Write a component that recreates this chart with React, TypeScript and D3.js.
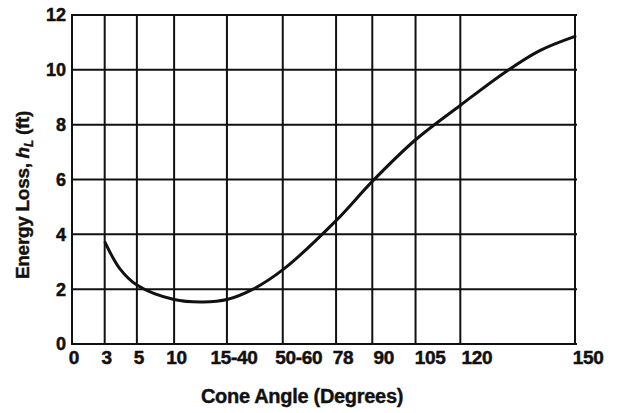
import React from "react";
import * as d3 from "d3";

// X axis: non-uniform category axis, positions in abstract axis units (0-100)
const xTickLabels = ["0", "3", "5", "10", "15-40", "50-60", "78", "90", "105", "120", "150"];
const xTickUnits = [0, 6.5, 12.9, 20.3, 30.8, 41.9, 52.5, 59.7, 68.3, 77.2, 100];
const xLabelUnits = [0.4, 6.9, 13.3, 20.8, 32.2, 45.1, 53.9, 62.0, 71.2, 80.5, 102.6];

// Y axis ticks
const yTicks = [0, 2, 4, 6, 8, 10, 12];

// Energy loss curve (x in axis units, y in ft)
const curveX = [6.6, 9.5, 12.9, 20.3, 26.0, 31.0, 36.0, 42.0, 52.5, 59.8, 68.3, 77.3, 86.4, 93.0, 100];
const curveY = [3.7, 2.75, 2.15, 1.62, 1.53, 1.63, 2.0, 2.72, 4.5, 5.95, 7.45, 8.72, 9.95, 10.7, 11.22];

const W = 618;
const H = 413;
const left = 72;
const right = 575;
const top = 15;
const bottom = 344;
const ink = "#111";
const font = "'Liberation Sans', Arial, Helvetica, sans-serif";

export default function App() {
  const x = d3.scaleLinear().domain([0, 100]).range([left, right]);
  const y = d3.scaleLinear().domain([0, 12]).range([bottom, top]);
  const pts: [number, number][] = curveX.map((v, i) => [v, curveY[i]]);
  const line = d3
    .line<[number, number]>()
    .x((d) => x(d[0]))
    .y((d) => y(d[1]))
    .curve(d3.curveCatmullRom.alpha(0.5));

  return (
    <svg
      width={W}
      height={H}
      style={{ position: "absolute", left: 0, top: 0, background: "#fff" }}
    >
      <rect x={0} y={0} width={W} height={H} fill="#fff" />
      {/* horizontal grid */}
      {yTicks.map((t) => (
        <line
          key={"h" + t}
          x1={left - 1}
          x2={right + 2}
          y1={y(t)}
          y2={y(t)}
          stroke={ink}
          strokeWidth={2}
        />
      ))}
      {/* vertical grid */}
      {xTickUnits.map((u, i) => (
        <line
          key={"v" + i}
          x1={x(u)}
          x2={x(u)}
          y1={top}
          y2={bottom}
          stroke={ink}
          strokeWidth={2}
        />
      ))}
      {/* curve */}
      <path d={line(pts) || ""} fill="none" stroke={ink} strokeWidth={3} strokeLinecap="round" />
      {/* y tick labels */}
      {yTicks.map((t) => (
        <text
          key={"yl" + t}
          x={left - 6}
          y={y(t)}
          dy="0.36em"
          textAnchor="end"
          fontFamily={font}
          fontWeight="bold"
          fontSize={18}
          stroke={ink}
          strokeWidth={0.5}
          fill={ink}
        >
          {t}
        </text>
      ))}
      {/* x tick labels */}
      {xTickLabels.map((lab, i) => (
        <text
          key={"xl" + i}
          x={x(xLabelUnits[i])}
          y={364}
          textAnchor="middle"
          fontFamily={font}
          fontWeight="bold"
          fontSize={19}
          letterSpacing={-0.3}
          stroke={ink}
          strokeWidth={0.5}
          fill={ink}
        >
          {lab}
        </text>
      ))}
      {/* x title */}
      <text
        x={302}
        y={403}
        textAnchor="middle"
        fontFamily={font}
        fontWeight="bold"
        fontSize={20}
        letterSpacing={-0.3}
        stroke={ink}
        strokeWidth={0.4}
        fill={ink}
      >
        Cone Angle (Degrees)
      </text>
      {/* y title */}
      <text
        transform={`translate(29,195) rotate(-90)`}
        textAnchor="middle"
        fontFamily={font}
        fontWeight="bold"
        fontSize={19}
        letterSpacing={-0.3}
        stroke={ink}
        strokeWidth={0.4}
        fill={ink}
      >
        Energy Loss,{" "}
        <tspan fontStyle="italic">h</tspan>
        <tspan fontSize={12} dy={4} fontStyle="italic">L</tspan>
        <tspan dy={-4}> (ft)</tspan>
      </text>
    </svg>
  );
}
